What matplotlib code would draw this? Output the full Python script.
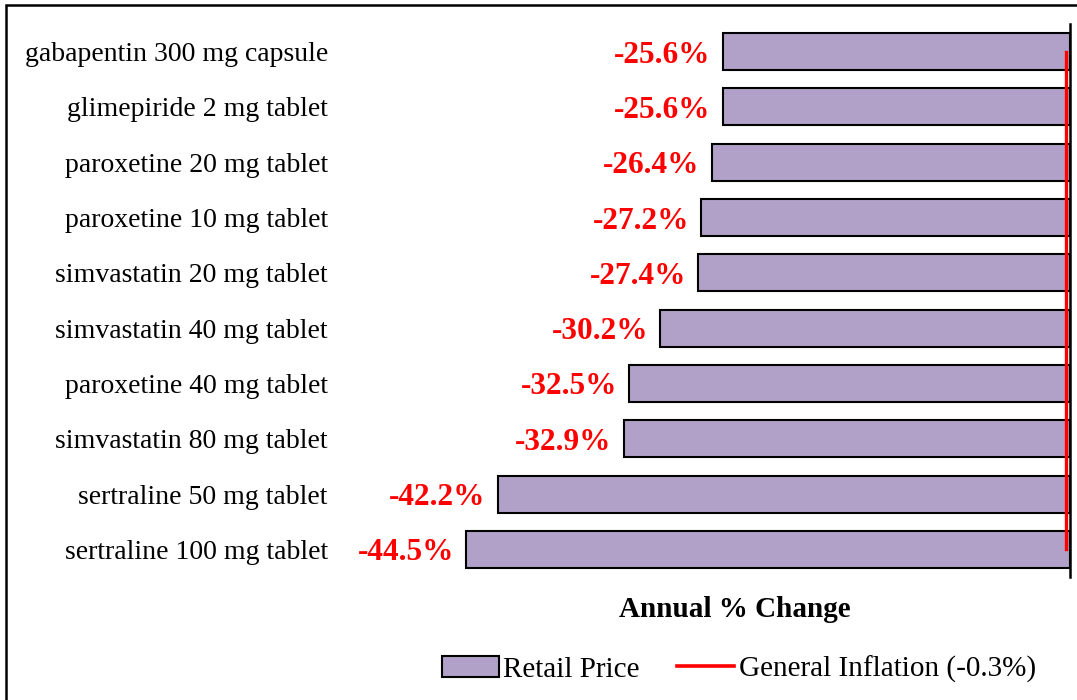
import matplotlib
matplotlib.use("Agg")
import matplotlib.pyplot as plt
from matplotlib.patches import Rectangle, Patch
from matplotlib.lines import Line2D

plt.rcParams["font.family"] = ["Liberation Serif", "DejaVu Serif"]

# ── data ──────────────────────────────────────────────
drugs = [
    "gabapentin 300 mg capsule",
    "glimepiride 2 mg tablet",
    "paroxetine 20 mg tablet",
    "paroxetine 10 mg tablet",
    "simvastatin 20 mg tablet",
    "simvastatin 40 mg tablet",
    "paroxetine 40 mg tablet",
    "simvastatin 80 mg tablet",
    "sertraline 50 mg tablet",
    "sertraline 100 mg tablet",
]
pct_change = [-25.6, -25.6, -26.4, -27.2, -27.4, -30.2, -32.5, -32.9, -42.2, -44.5]
inflation = -0.3

BAR_COLOR = "#B1A0C7"
RED = "#FF0000"

fig = plt.figure(figsize=(10.77, 7.0), dpi=100)
ax = fig.add_axes([0.316, 0.1757, 0.6775, 0.79])

y = list(range(len(drugs)))
ax.barh(y, pct_change, height=0.67, color=BAR_COLOR, edgecolor="black", linewidth=1.5)

# inflation reference line
ax.plot([inflation, inflation], [0, len(drugs) - 1], color=RED, linewidth=2.4, zorder=4)

# value labels
for yi, v in zip(y, pct_change):
    ax.text(v - 0.9, yi, f"{v:.1f}%", ha="right", va="center_baseline",
            color=RED, fontsize=22.5, fontweight="bold")

ax.set_xlim(-53.8, 0)
ax.set_ylim(len(drugs) - 0.5, -0.5)
ax.set_yticks(y)
ax.set_yticklabels(drugs, fontsize=20)
ax.tick_params(axis="y", length=0, pad=9)
ax.set_xticks([])
for side in ["left", "top", "bottom"]:
    ax.spines[side].set_visible(False)
ax.spines["right"].set_linewidth(1.8)

ax.set_xlabel("Annual % Change", fontsize=21, fontweight="bold")
ax.xaxis.set_label_coords(0.541, -0.035)

handles = [
    Patch(facecolor=BAR_COLOR, edgecolor="black", linewidth=1.5, label="Retail Price"),
    Line2D([0], [0], color=RED, linewidth=2.6, label="General Inflation (-0.3%)"),
]
fig.legend(handles=handles, loc="center", bbox_to_anchor=(0.686, 0.044), ncol=2,
           frameon=False, fontsize=21, handlelength=1.95, handletextpad=0.17,
           columnspacing=1.27)

# outer frame
fig.patches.append(Rectangle((6 / 1077, -0.05), 1.2, 1 - 5 / 700 + 0.05,
                             transform=fig.transFigure, fill=False,
                             edgecolor="black", linewidth=1.8))

fig.savefig("out.png", dpi=100)
